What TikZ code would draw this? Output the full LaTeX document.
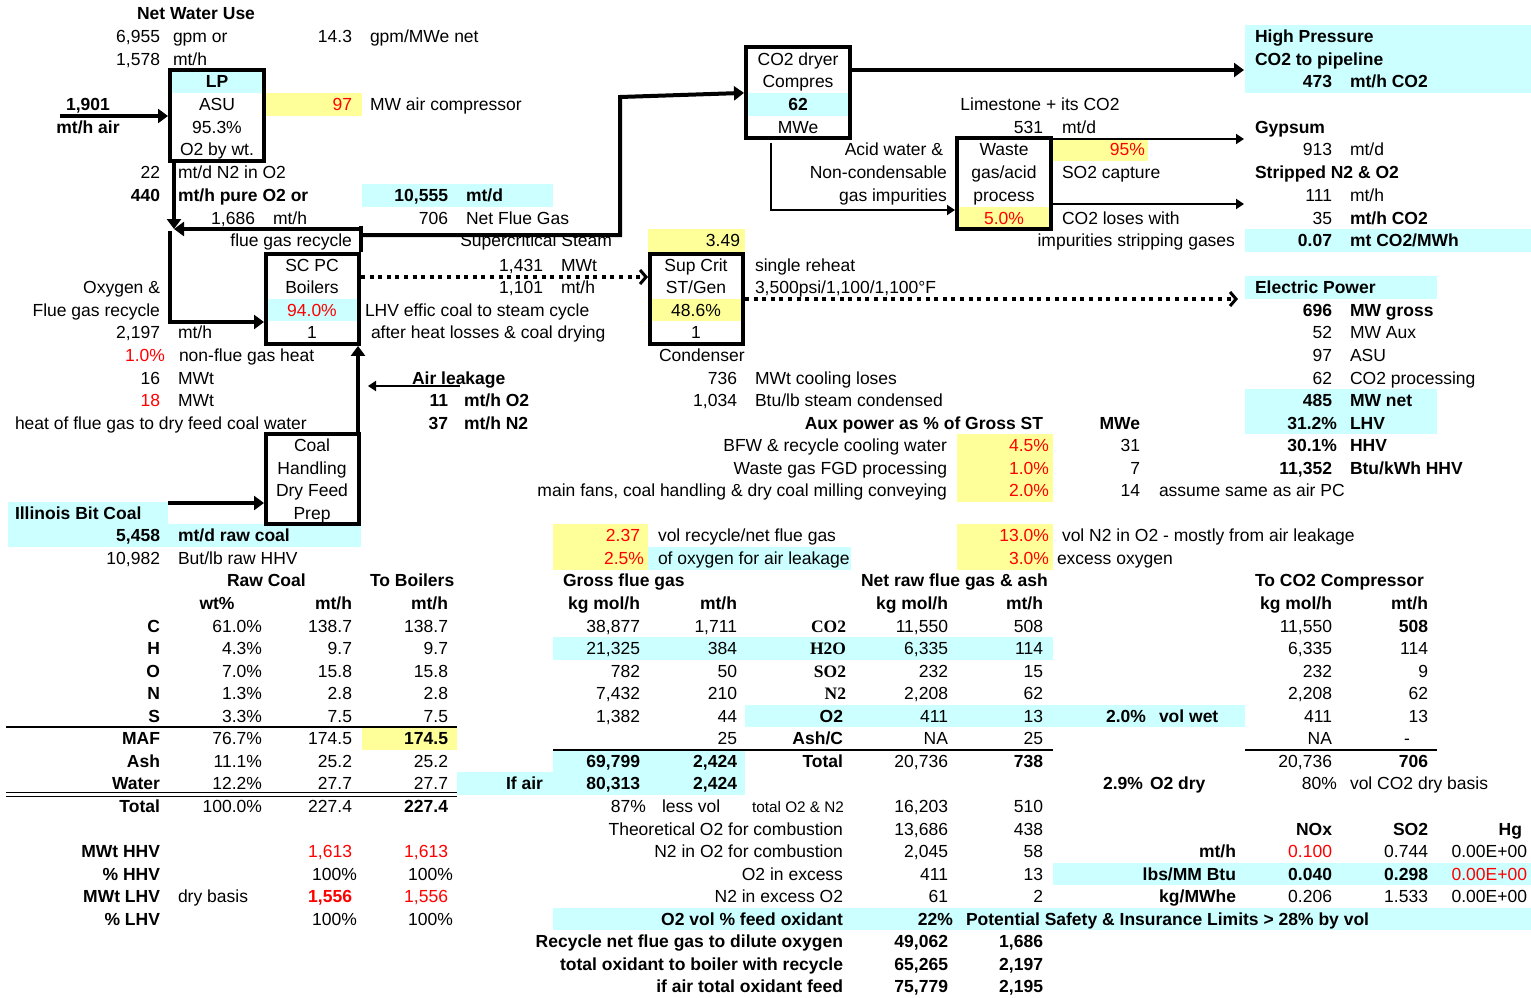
\documentclass[tikz,border=0pt]{standalone}
\usepackage{fontspec}
\setmainfont{Liberation Sans}
\newfontfamily\lserif{Liberation Serif}
\usetikzlibrary{arrows.meta,calc}
\definecolor{cy}{HTML}{CCFFFF}
\definecolor{ye}{HTML}{FFFF99}
\definecolor{rd}{HTML}{FF0000}
\newcounter{tn}
\newcommand\fs{\fontsize{17.5}{20}\selectfont}
\tikzset{
 txt/.style={inner sep=0pt,outer sep=0pt,text height=12.5pt,text depth=0pt,font=\fs},
 fb/.style={font=\fs\bfseries},
 rt/.style={text=rd},
 sbf/.style={font=\fs\lserif\bfseries},
 smf/.style={font=\fontsize{15.3}{18}\selectfont},
 box/.style={draw,line width=4pt,inner sep=0pt,outer sep=2pt},
 thk/.style={line width=4pt,-{Triangle[length=10pt,width=14pt]}},
 thn/.style={line width=2.5pt,-{Triangle[length=8pt,width=10pt]}},
 dotl/.style={line width=4pt,dash pattern=on 4pt off 4.6pt,-{Straight Barb[length=6pt,width=14pt,line width=3pt]}},
}
\newcommand\rowy[1]{ifthenelse(#1<11.5,13.3+22.74*(#1-1),265+22.55*(#1-12))}
\newcommand\xR[4][]{\stepcounter{tn}\node[txt,anchor=east,#1] (t\arabic{tn}) at (#2,{\rowy{#3}}) {#4};}
\newcommand\xL[4][]{\stepcounter{tn}\node[txt,anchor=west,#1] (t\arabic{tn}) at (#2,{\rowy{#3}}) {#4};}
\newcommand\xC[4][]{\stepcounter{tn}\node[txt,anchor=center,#1] (t\arabic{tn}) at (#2,{\rowy{#3}}) {#4};}
\newcommand\cf[5]{\fill[#1] (#2,{\rowy{#3}-11.35}) rectangle (#4,{\rowy{#5}+11.35});}
\begin{document}
\begin{tikzpicture}[x=1pt,y=-1pt]
\fill[white] (0,0) rectangle (1531,997);
\useasboundingbox (0,0) rectangle (1531,997);
% fills
\cf{cy}{1245}{2}{1531}{4}
\cf{cy}{170}{4}{264}{4}
\cf{cy}{745}{5}{851}{5}
\cf{ye}{265}{5}{362}{5}
\cf{ye}{1053}{7}{1148}{7}
\cf{cy}{362}{9}{553}{9}
\cf{ye}{957}{10}{1053}{10}
\cf{ye}{648}{11}{745}{11}
\cf{cy}{1245}{11}{1531}{11}
\cf{cy}{1245}{13}{1437}{13}
\cf{cy}{264}{14}{361}{14}
\cf{ye}{648}{14}{745}{14}
\cf{cy}{1245}{18}{1437}{19}
\cf{ye}{957}{20}{1053}{22}
\cf{cy}{8}{23}{168}{23}
\cf{cy}{8}{24}{361}{24}
\cf{ye}{553}{24}{648}{25}
\cf{ye}{957}{24}{1053}{25}
\cf{cy}{648}{25}{851}{25}
\cf{cy}{553}{29}{1053}{29}
\cf{cy}{745}{32}{1245}{32}
\cf{ye}{362}{33}{457}{33}
\cf{cy}{553}{34}{745}{35}
\cf{cy}{457}{35}{553}{35}
\cf{cy}{1053}{39}{1531}{39}
\cf{cy}{553}{41}{1531}{41}
% row 1-11
\xL[fb]{137}{1}{Net Water Use}
\xR{160}{2}{6,955} \xL{173}{2}{gpm or} \xR{352}{2}{14.3} \xL{370}{2}{gpm/MWe net} \xL[fb]{1255}{2}{High Pressure}
\xR{160}{3}{1,578} \xL{173}{3}{mt/h} \xC{798}{3}{CO2 dryer} \xL[fb]{1255}{3}{CO2 to pipeline}
\xC[fb]{217}{4}{LP} \xC{798}{4}{Compres} \xR[fb]{1332}{4}{473} \xL[fb]{1350}{4}{mt/h CO2}
\xC[fb]{88}{5}{1,901} \xC{217}{5}{ASU} \xR[rt]{352}{5}{97} \xL{370}{5}{MW air compressor} \xC[fb]{798}{5}{62} \xC{1040}{5}{Limestone + its CO2}
\xC[fb]{88}{6}{mt/h air} \xC{217}{6}{95.3\%} \xC{798}{6}{MWe} \xR{1043}{6}{531} \xL{1062}{6}{mt/d} \xL[fb]{1255}{6}{Gypsum}
\xC{217}{7}{O2 by wt.} \xR{943}{7}{Acid water \&} \xC{1004}{7}{Waste} \xR[rt]{1145}{7}{95\%} \xR{1332}{7}{913} \xL{1350}{7}{mt/d}
\xR{160}{8}{22} \xL{178}{8}{mt/d N2 in O2} \xR{947}{8}{Non-condensable} \xC{1004}{8}{gas/acid} \xL{1062}{8}{SO2 capture} \xL[fb]{1255}{8}{Stripped N2 \& O2}
\xR[fb]{160}{9}{440} \xL[fb]{178}{9}{mt/h pure O2 or} \xR[fb]{448}{9}{10,555} \xL[fb]{466}{9}{mt/d} \xR{947}{9}{gas impurities} \xC{1004}{9}{process} \xR{1332}{9}{111} \xL{1350}{9}{mt/h}
\xR{255}{10}{1,686} \xL{273}{10}{mt/h} \xR{448}{10}{706} \xL{466}{10}{Net Flue Gas} \xC[rt]{1004}{10}{5.0\%} \xL{1062}{10}{CO2 loses with} \xR{1332}{10}{35} \xL[fb]{1350}{10}{mt/h CO2}
\xR{352}{11}{flue gas recycle} \xR{612}{11}{Supercritical Steam} \xR{740}{11}{3.49} \xR{1235}{11}{impurities stripping gases} \xR[fb]{1332}{11}{0.07} \xL[fb]{1350}{11}{mt CO2/MWh}
% rows 12-25
\xC{312}{12}{SC PC} \xR{543}{12}{1,431} \xL{561}{12}{MWt} \xC{696}{12}{Sup Crit} \xL{755}{12}{single reheat}
\xR{160}{13}{Oxygen \&} \xC{312}{13}{Boilers} \xR{543}{13}{1,101} \xL{561}{13}{mt/h} \xC{696}{13}{ST/Gen} \xL{755}{13}{3,500psi/1,100/1,100°F} \xL[fb]{1255}{13}{Electric Power}
\xR{160}{14}{Flue gas recycle} \xC[rt]{312}{14}{94.0\%} \xL{365}{14}{LHV effic coal to steam cycle} \xC{696}{14}{48.6\%} \xR[fb]{1332}{14}{696} \xL[fb]{1350}{14}{MW gross}
\xR{160}{15}{2,197} \xL{178}{15}{mt/h} \xC{312}{15}{1} \xL{371}{15}{after heat losses \& coal drying} \xC{696}{15}{1} \xR{1332}{15}{52} \xL{1350}{15}{MW Aux}
\xR[rt]{165}{16}{1.0\%} \xL{179}{16}{non-flue gas heat} \xL{659}{16}{Condenser} \xR{1332}{16}{97} \xL{1350}{16}{ASU}
\xR{160}{17}{16} \xL{178}{17}{MWt} \xL[fb]{412}{17}{Air leakage} \xR{737}{17}{736} \xL{755}{17}{MWt cooling loses} \xR{1332}{17}{62} \xL{1350}{17}{CO2 processing}
\xR[rt]{160}{18}{18} \xL{178}{18}{MWt} \xR[fb]{448}{18}{11} \xL[fb]{464}{18}{mt/h O2} \xR{737}{18}{1,034} \xL{755}{18}{Btu/lb steam condensed} \xR[fb]{1332}{18}{485} \xL[fb]{1350}{18}{MW net}
\xL{15}{19}{heat of flue gas to dry feed coal water} \xR[fb]{448}{19}{37} \xL[fb]{464}{19}{mt/h N2} \xR[fb]{1043}{19}{Aux power as \% of Gross ST} \xR[fb]{1140}{19}{MWe} \xR[fb]{1337}{19}{31.2\%} \xL[fb]{1350}{19}{LHV}
\xC{312}{20}{Coal} \xR{947}{20}{BFW \& recycle cooling water} \xR[rt]{1049}{20}{4.5\%} \xR{1140}{20}{31} \xR[fb]{1337}{20}{30.1\%} \xL[fb]{1350}{20}{HHV}
\xC{312}{21}{Handling} \xR{947}{21}{Waste gas FGD processing} \xR[rt]{1049}{21}{1.0\%} \xR{1140}{21}{7} \xR[fb]{1332}{21}{11,352} \xL[fb]{1350}{21}{Btu/kWh HHV}
\xC{312}{22}{Dry Feed} \xR{947}{22}{main fans, coal handling \& dry coal milling conveying} \xR[rt]{1049}{22}{2.0\%} \xR{1140}{22}{14} \xL{1159}{22}{assume same as air PC}
\xL[fb]{15}{23}{Illinois Bit Coal} \xC{312}{23}{Prep}
\xR[fb]{160}{24}{5,458} \xL[fb]{178}{24}{mt/d raw coal} \xR[rt]{640}{24}{2.37} \xL{658}{24}{vol recycle/net flue gas} \xR[rt]{1049}{24}{13.0\%} \xL{1062}{24}{vol N2 in O2 - mostly from air leakage}
\xR{160}{25}{10,982} \xL{178}{25}{But/lb raw HHV} \xR[rt]{644}{25}{2.5\%} \xL{658}{25}{of oxygen for air leakage} \xR[rt]{1049}{25}{3.0\%} \xL{1057}{25}{excess oxygen}
% table headers
\xL[fb]{227}{26}{Raw Coal} \xL[fb]{370}{26}{To Boilers} \xL[fb]{563}{26}{Gross flue gas} \xL[fb]{861}{26}{Net raw flue gas \& ash} \xL[fb]{1255}{26}{To CO2 Compressor}
\xC[fb]{217}{27}{wt\%} \xR[fb]{352}{27}{mt/h} \xR[fb]{448}{27}{mt/h} \xR[fb]{640}{27}{kg mol/h} \xR[fb]{737}{27}{mt/h} \xR[fb]{948}{27}{kg mol/h} \xR[fb]{1043}{27}{mt/h} \xR[fb]{1332}{27}{kg mol/h} \xR[fb]{1428}{27}{mt/h}
% table body
\xR[fb]{160}{28}{C} \xR{262}{28}{61.0\%} \xR{352}{28}{138.7} \xR{448}{28}{138.7} \xR{640}{28}{38,877} \xR{737}{28}{1,711} \xR[sbf]{846}{28}{CO2} \xR{948}{28}{11,550} \xR{1043}{28}{508} \xR{1332}{28}{11,550} \xR[fb]{1428}{28}{508}
\xR[fb]{160}{29}{H} \xR{262}{29}{4.3\%} \xR{352}{29}{9.7} \xR{448}{29}{9.7} \xR{640}{29}{21,325} \xR{737}{29}{384} \xR[sbf]{846}{29}{H2O} \xR{948}{29}{6,335} \xR{1043}{29}{114} \xR{1332}{29}{6,335} \xR{1428}{29}{114}
\xR[fb]{160}{30}{O} \xR{262}{30}{7.0\%} \xR{352}{30}{15.8} \xR{448}{30}{15.8} \xR{640}{30}{782} \xR{737}{30}{50} \xR[sbf]{846}{30}{SO2} \xR{948}{30}{232} \xR{1043}{30}{15} \xR{1332}{30}{232} \xR{1428}{30}{9}
\xR[fb]{160}{31}{N} \xR{262}{31}{1.3\%} \xR{352}{31}{2.8} \xR{448}{31}{2.8} \xR{640}{31}{7,432} \xR{737}{31}{210} \xR[sbf]{846}{31}{N2} \xR{948}{31}{2,208} \xR{1043}{31}{62} \xR{1332}{31}{2,208} \xR{1428}{31}{62}
\xR[fb]{160}{32}{S} \xR{262}{32}{3.3\%} \xR{352}{32}{7.5} \xR{448}{32}{7.5} \xR{640}{32}{1,382} \xR{737}{32}{44} \xR[fb]{843}{32}{O2} \xR{948}{32}{411} \xR{1043}{32}{13} \xR[fb]{1146}{32}{2.0\%} \xL[fb]{1159}{32}{vol wet} \xR{1332}{32}{411} \xR{1428}{32}{13}
\xR[fb]{160}{33}{MAF} \xR{262}{33}{76.7\%} \xR{352}{33}{174.5} \xR[fb]{448}{33}{174.5} \xR{737}{33}{25} \xR[fb]{843}{33}{Ash/C} \xR{948}{33}{NA} \xR{1043}{33}{25} \xR{1332}{33}{NA} \xC{1407}{33}{-}
\xR[fb]{160}{34}{Ash} \xR{262}{34}{11.1\%} \xR{352}{34}{25.2} \xR{448}{34}{25.2} \xR[fb]{640}{34}{69,799} \xR[fb]{737}{34}{2,424} \xR[fb]{843}{34}{Total} \xR{948}{34}{20,736} \xR[fb]{1043}{34}{738} \xR{1332}{34}{20,736} \xR[fb]{1428}{34}{706}
\xR[fb]{160}{35}{Water} \xR{262}{35}{12.2\%} \xR{352}{35}{27.7} \xR{448}{35}{27.7} \xR[fb]{543}{35}{If air} \xR[fb]{640}{35}{80,313} \xR[fb]{737}{35}{2,424} \xR[fb]{1143}{35}{2.9\%} \xL[fb]{1150}{35}{O2 dry} \xR{1337}{35}{80\%} \xL{1350}{35}{vol CO2 dry basis}
\xR[fb]{160}{36}{Total} \xR{262}{36}{100.0\%} \xR{352}{36}{227.4} \xR[fb]{448}{36}{227.4} \xR{646}{36}{87\%} \xL{662}{36}{less vol} \xR[smf]{844}{36}{total O2 \& N2} \xR{948}{36}{16,203} \xR{1043}{36}{510}
\xR{843}{37}{Theoretical O2 for combustion} \xR{948}{37}{13,686} \xR{1043}{37}{438} \xR[fb]{1332}{37}{NOx} \xR[fb]{1428}{37}{SO2} \xR[fb]{1522}{37}{Hg}
\xR[fb]{160}{38}{MWt HHV} \xR[rt]{352}{38}{1,613} \xR[rt]{448}{38}{1,613} \xR{843}{38}{N2 in O2 for combustion} \xR{948}{38}{2,045} \xR{1043}{38}{58} \xR[fb]{1236}{38}{mt/h} \xR[rt]{1332}{38}{0.100} \xR{1428}{38}{0.744} \xR{1527}{38}{0.00E+00}
\xR[fb]{160}{39}{\% HHV} \xR{357}{39}{100\%} \xR{453}{39}{100\%} \xR{843}{39}{O2 in excess} \xR{948}{39}{411} \xR{1043}{39}{13} \xR[fb]{1236}{39}{lbs/MM Btu} \xR[fb]{1332}{39}{0.040} \xR[fb]{1428}{39}{0.298} \xR[rt]{1527}{39}{0.00E+00}
\xR[fb]{160}{40}{MWt LHV} \xL{178}{40}{dry basis} \xR[fb,rt]{352}{40}{1,556} \xR[rt]{448}{40}{1,556} \xR{843}{40}{N2 in excess O2} \xR{948}{40}{61} \xR{1043}{40}{2} \xR[fb]{1236}{40}{kg/MWhe} \xR{1332}{40}{0.206} \xR{1428}{40}{1.533} \xR{1527}{40}{0.00E+00}
\xR[fb]{160}{41}{\% LHV} \xR{357}{41}{100\%} \xR{453}{41}{100\%} \xR[fb]{843}{41}{O2 vol \% feed oxidant} \xR[fb]{953}{41}{22\%} \xL[fb]{966}{41}{Potential Safety \& Insurance Limits > 28\% by vol}
\xR[fb]{843}{42}{Recycle net flue gas to dilute oxygen} \xR[fb]{948}{42}{49,062} \xR[fb]{1043}{42}{1,686}
\xR[fb]{843}{43}{total oxidant to boiler with recycle} \xR[fb]{948}{43}{65,265} \xR[fb]{1043}{43}{2,197}
\xR[fb]{843}{44}{if air total oxidant feed} \xR[fb]{948}{44}{75,779} \xR[fb]{1043}{44}{2,195}
% table rules
\draw[line width=2pt] (6,727) -- (457,727);
\draw[line width=2pt] (553,750) -- (1053,750);
\draw[line width=2pt] (1245,750) -- (1437,750);
\draw[line width=1.3pt] (6,792.5) -- (457,792.5);
\draw[line width=1.3pt] (6,796.5) -- (457,796.5);
% boxes
\node[box,minimum width=94pt,minimum height=91pt] (lp) at (217,115.6) {};
\node[box,minimum width=104pt,minimum height=91pt] (co2) at (798,92.9) {};
\node[box,minimum width=94pt,minimum height=91pt] (waste) at (1004,183.85) {};
\node[box,minimum width=93pt,minimum height=90.2pt] (scpc) at (312.5,298.8) {};
\node[box,minimum width=93pt,minimum height=90.2pt] (sup) at (696.5,298.8) {};
\node[box,minimum width=93pt,minimum height=90.2pt] (coal) at (312.5,479.2) {};
% connectors
\coordinate (airin) at (60,116);
\draw[thk] (airin) -- (airin -| lp.west);
\coordinate (mix) at (174,229);
\draw[thk] (lp.south -| mix) -- (mix);
\coordinate (fgtop) at (361,226);
\draw[line width=4pt] (scpc.north east) -- (fgtop);
\draw[thk] (fgtop |- mix) -- (mix);
\coordinate (fgr) at (361,235);
\coordinate (fgc) at (620,235);
\coordinate (fgu) at (620,97);
\draw[thk] (fgr) -- (fgc) -- (fgu) -- (co2.west);
\coordinate (mixd) at (170,231);
\coordinate (mixc) at (170,322);
\draw[thk] (mixd) -- (mixc) -- (mixc -| scpc.west);
\draw[thk] ([xshift=45.5pt]coal.north) -- ([xshift=45.5pt]scpc.south);
\coordinate (coalin) at (168,503);
\draw[thk] (coalin) -- (coalin -| coal.west);
\coordinate (alk1) at (460,386);
\coordinate (alk2) at (368,386);
\draw[thn] (alk1) -- (alk2);
\draw[dotl] ([yshift=21.8pt]scpc.east) -- ([yshift=21.8pt]sup.west);
\coordinate (ep) at (1238,299);
\draw[dotl] (ep -| sup.east) -- (ep);
\coordinate (hp) at (1244,70);
\draw[thk] (hp -| co2.east) -- (hp);
\coordinate (cb) at (771,143);
\coordinate (cc) at (771,210);
\draw[thn] (cb) -- (cc) -- (cc -| waste.west);
\coordinate (gy) at (1244,139);
\draw[thn] (gy -| waste.east) -- (gy);
\coordinate (sn) at (1244,204);
\draw[thn] (sn -| waste.east) -- (sn);
\end{tikzpicture}
\end{document}
